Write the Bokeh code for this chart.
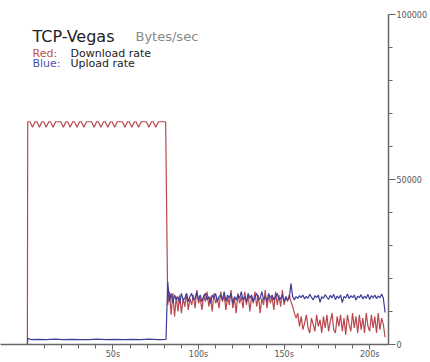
from bokeh.plotting import figure
from bokeh.models import Range1d, FixedTicker, Label
from bokeh.embed import file_html
from bokeh.resources import INLINE

# ---------------- data ----------------
# Download (red), phase 1: steady ~67.5 kB/s with small periodic dips
red_time_p1 = [0, 0.2, 1.5, 3, 4.5, 5.5, 7, 8.5, 9.5, 11, 12.5, 13.5, 15, 16.5,
               19.5, 21, 22.5, 23.5, 25, 26.5, 27.5, 29, 30.5, 31.5, 33, 34.5,
               37.5, 39, 40.5, 41.5, 43, 44.5, 45.5, 47, 48.5, 49.5, 51, 52.5,
               55.5, 57, 58.5, 59.5, 61, 62.5, 63.5, 65, 66.5,
               69.5, 71, 72.5, 73.5, 75, 76.5, 80.8]
red_rate_p1 = [0, 67500, 67500, 65800, 67500, 67500, 65800, 67500, 67500, 65800, 67500, 67500, 65800, 67500,
               67500, 65800, 67500, 67500, 65800, 67500, 67500, 65800, 67500, 67500, 65800, 67500,
               67500, 65800, 67500, 67500, 65800, 67500, 67500, 65800, 67500, 67500, 65800, 67500,
               67500, 65800, 67500, 67500, 65800, 67500, 67500, 65800, 67500,
               67500, 65800, 67500, 67500, 65800, 67500, 67500]

# Upload (blue), phase 1: ~1.5 kB/s
blue_time_p1 = [0, 0.3, 2, 6, 11, 16, 21, 26, 31, 36, 41, 46, 51, 56, 61, 66, 71, 76, 81]
blue_rate_p1 = [0, 1900, 1500, 1550, 1500, 1600, 1500, 1550, 1500, 1500, 1600, 1500, 1550,
                1500, 1550, 1500, 1600, 1500, 1550]

# phase 2 + 3, sampled each second from 82 s to 209 s
time_p2 = list(range(82, 210))
red_rate_p2 = [
    12000, 16000, 9000, 15500, 8500, 14500, 10000, 15000, 9500, 14000,    # 82-91
    11500, 15500, 10500, 14000, 12000, 15000, 11000, 16500, 12500, 14000,  # 92-101
    10500, 15000, 13000, 16000, 11500, 14500, 10000, 15500, 12500, 14000,  # 102-111
    11000, 16000, 13000, 15000, 10500, 14500, 12000, 16500, 11000, 14000,  # 112-121
    9500, 15500, 12500, 14500, 11000, 16000, 12000, 15000, 10000, 14500,   # 122-131
    12500, 16000, 11500, 15000, 9500, 14000, 12000, 16500, 11000, 15000,   # 132-141
    12500, 14500, 10500, 16000, 12000, 15000, 11500, 16500, 12000, 14500,  # 142-151
    13000, 15000, 13000, 11500, 9500, 8000, 9500, 5500,                    # 152-159
    8500, 4500, 6500, 9000, 5000, 3500, 8000, 6000, 4000, 9000,            # 160-169
    5500, 7500, 3500, 8500, 5000, 9000, 4000, 7000, 9500, 4500,            # 170-179
    3500, 8500, 5500, 9000, 4000, 8000, 3000, 9000, 6000, 4000,            # 180-189
    9500, 5000, 8500, 3500, 9000, 4500, 8000, 3500, 9500, 5500,            # 190-199
    4000, 9000, 5000, 8500, 3500, 9500, 4500, 8000, 6000, 2200,            # 200-209
]
blue_rate_p2 = [
    19000, 13000, 15500, 12500, 15000, 13500, 14500, 12500, 15500, 13500,  # 82-91
    14000, 15500, 13000, 14500, 15500, 13500, 14000, 16000, 13500, 15000,  # 92-101
    13000, 14500, 15500, 13500, 14500, 12500, 15000, 14000, 15500, 13000,  # 102-111
    14500, 15000, 13500, 16000, 13000, 15000, 14000, 15500, 12500, 14500,  # 112-121
    13500, 15000, 14000, 16000, 13500, 14500, 13000, 15500, 14000, 15000,  # 122-131
    13000, 14500, 15500, 13500, 14000, 16000, 13500, 14500, 13000, 15500,  # 132-141
    14000, 15000, 13500, 14500, 15500, 13500, 14000, 15000, 13000, 14500,  # 142-151
    13500, 14000, 18500, 14500, 13500, 14500, 14000, 14800,                # 152-159
    14200, 15000, 13800, 14600, 14000, 15200, 14300, 13500, 14800, 14200,  # 160-169
    15000, 12800, 14500, 14000, 15100, 14300, 13700, 14900, 14100, 15200,  # 170-179
    13600, 14700, 14000, 15000, 12700, 14600, 14100, 15300, 13900, 14800,  # 180-189
    14200, 15000, 13500, 14600, 14200, 15100, 13800, 14700, 14000, 15200,  # 190-199
    13600, 14800, 14100, 15000, 13900, 14700, 14200, 15300, 14000, 9700,   # 200-209
]

x_ticks = [50, 100, 150, 200]
x_tick_labels = ["50s", "100s", "150s", "200s"]
x_minor_ticks = [10, 20, 30, 40, 60, 70, 80, 90, 110, 120, 130, 140, 160, 170, 180, 190]
y_ticks = [0, 50000, 100000]
y_tick_labels = ["0", "50000", "100000"]
y_minor_ticks = [10000, 20000, 30000, 40000, 60000, 70000, 80000, 90000]

red_t = red_time_p1 + time_p2
red_v = red_rate_p1 + red_rate_p2
blue_t = blue_time_p1 + time_p2
blue_v = blue_rate_p1 + blue_rate_p2

RED = "#b8484e"
BLUE = "#3f3f9a"
AXIS = "#666666"
FONT = "DejaVu Sans"

# ---------------- figure ----------------
p = figure(width=430, height=362, output_backend="svg", toolbar_location=None,
           x_range=Range1d(-15.7, 211), y_range=Range1d(0, 100000),
           y_axis_location="right",
           min_border_left=0, min_border_right=40, min_border_top=14, min_border_bottom=18)
p.outline_line_color = None
p.xgrid.visible = False
p.ygrid.visible = False
p.background_fill_color = "white"
p.border_fill_color = "white"

p.line(red_t, red_v, line_color=RED, line_width=1.2)
p.line(blue_t, blue_v, line_color=BLUE, line_width=1.2)

xa = p.xaxis[0]
xa.ticker = FixedTicker(ticks=x_ticks, minor_ticks=x_minor_ticks)
xa.major_label_overrides = dict(zip(x_ticks, x_tick_labels))
xa.axis_line_color = AXIS
xa.axis_line_width = 1.5
xa.major_tick_line_color = AXIS
xa.minor_tick_line_color = AXIS
xa.major_tick_in = 0
xa.major_tick_out = 5
xa.minor_tick_in = 0
xa.minor_tick_out = 4
xa.major_label_standoff = 0
xa.major_label_text_font = FONT
xa.major_label_text_font_size = "8px"
xa.major_label_text_color = "#555555"

ya = p.yaxis[0]
ya.ticker = FixedTicker(ticks=y_ticks, minor_ticks=y_minor_ticks)
ya.major_label_overrides = dict(zip(y_ticks, y_tick_labels))
ya.axis_line_color = AXIS
ya.axis_line_width = 1.5
ya.major_tick_line_color = AXIS
ya.minor_tick_line_color = AXIS
ya.major_tick_in = 0
ya.major_tick_out = 7
ya.minor_tick_in = 0
ya.minor_tick_out = 4
ya.major_label_standoff = 1
ya.major_label_text_font = FONT
ya.major_label_text_font_size = "8px"
ya.major_label_text_color = "#555555"

def add_text(x, y, text, size, color):
    p.add_layout(Label(x=x, y=y, x_units="screen", y_units="screen", text=text,
                       text_align="left", text_baseline="alphabetic",
                       text_font=FONT, text_font_size=size, text_color=color))

add_text(32, 308, "TCP-Vegas", "16px", "#222222")
add_text(135, 308, "Bytes/sec", "13px", "#888888")
add_text(32, 291.5, "Red:", "11px", "#c0504d")
add_text(70, 291.5, "Download rate", "11px", "#222222")
add_text(32, 281, "Blue:", "11px", "#5050b0")
add_text(70, 281, "Upload rate", "11px", "#222222")

open("out.html", "w").write(file_html(p, INLINE))
